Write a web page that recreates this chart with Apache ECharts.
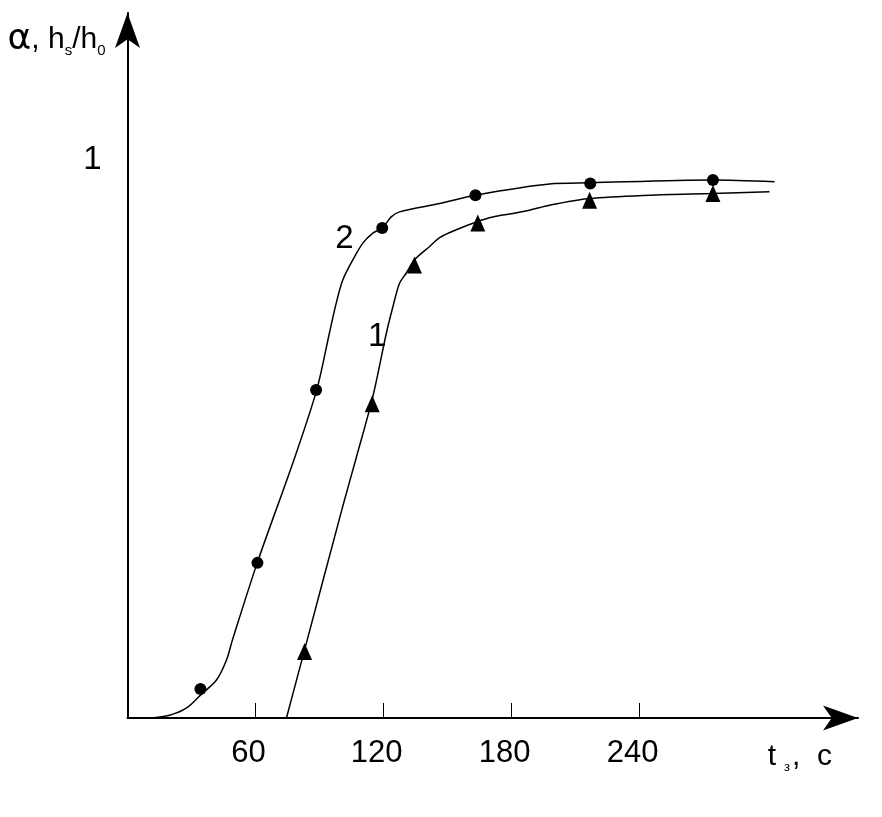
<!DOCTYPE html>
<html>
<head>
<meta charset="utf-8">
<script src="https://cdn.jsdelivr.net/npm/echarts@6/dist/echarts.min.js"></script>
<style>
html,body{margin:0;padding:0;background:#fff;}
#chart{width:882px;height:817px;}
</style>
</head>
<body>
<div id="chart"></div>
<script>
// Tick labels
const xTicks = [60, 120, 180, 240];
const yTicks = [1];

// Curve 2 (circles) – smooth line
const curve2 = [[10.3,0],[19.7,0.005],[27.7,0.018],[34.2,0.041],[41.7,0.068],[46.4,0.104],[49.2,0.140],
  [60.8,0.278],[77.95,0.462],[88.7,0.588],[94.6,0.689],[97.8,0.743],[100.9,0.785],[105.6,0.821],
  [110.3,0.851],[115.0,0.869],[119.4,0.878],[123.6,0.898],[127.5,0.907],[146.3,0.922],[163.1,0.937],
  [197.8,0.957],[216.6,0.959],[274.2,0.964],[303.3,0.961]];
// Curve 1 (triangles)
const curve1 = [[74.5,0],[83.0,0.122],[100.8,0.378],[106.9,0.462],[115.0,0.576],[121.3,0.689],
  [124.4,0.737],[127.5,0.779],[130.6,0.797],[134.5,0.821],[141.6,0.845],[146.3,0.861],[154.1,0.875],
  [163.5,0.889],[171.2,0.898],[180.6,0.904],[188.4,0.910],[197.8,0.919],[216.6,0.931],[244.7,0.937],
  [274.4,0.940],[300.9,0.943]];

// Measured points
const points2 = [[34.2,0.052],[60.9,0.278],[88.4,0.588],[119.4,0.878],[163.1,0.937],[216.9,0.958],[274.4,0.964]];
const points1 = [[83.0,0.119],[114.7,0.563],[134.5,0.812],[164.2,0.887],[216.6,0.928],[274.4,0.940]];

const chart = echarts.init(document.getElementById('chart'), null, {renderer: 'canvas'});
const FONT = 'Liberation Sans, Arial, sans-serif';

chart.setOption({
  animation: false,
  backgroundColor: '#fff',
  grid: {left: 127.5, top: 13, width: 730.5, height: 705},
  xAxis: {
    type: 'value', min: 0, max: 342.4,
    splitLine: {show: false},
    axisLine: {lineStyle: {color: '#000', width: 2}, symbol: ['none', 'arrow'], symbolSize: [18.75, 35]},
    axisTick: {show: true, inside: true, length: 15, customValues: xTicks, lineStyle: {color: '#000', width: 1}},
    axisLabel: {customValues: xTicks, margin: 20, color: '#000', fontSize: 31, fontFamily: FONT, padding: [0, 14, 0, 0]},
    name: '{m|t}{s|з}{m|,  c}',
    nameLocation: 'end',
    nameGap: -26,
    nameTextStyle: {
      align: 'right', verticalAlign: 'top', padding: [22, 0, 0, 0],
      rich: {
        m: {fontSize: 30, fontFamily: FONT, color: '#000', lineHeight: 34},
        s: {fontSize: 13, fontFamily: FONT, color: '#000', lineHeight: 20, verticalAlign: 'bottom', padding: [0, 2, 0, 8]}
      }
    }
  },
  yAxis: {
    type: 'value', min: 0, max: 1.2634,
    splitLine: {show: false},
    axisLine: {lineStyle: {color: '#000', width: 2}, symbol: ['none', 'arrow'], symbolSize: [18.75, 35]},
    axisTick: {show: false},
    axisLabel: {customValues: yTicks, margin: 26, color: '#000', fontSize: 33, fontFamily: FONT},
    name: '{a|α}{m|, h}{s|s}{m|/h}{s|0}',
    nameLocation: 'end',
    nameGap: -27,
    nameTextStyle: {
      align: 'right', verticalAlign: 'middle', padding: [0, 22, 0, 0],
      rich: {
        a: {fontSize: 36, fontFamily: 'DejaVu Sans, sans-serif', color: '#000', lineHeight: 36},
        m: {fontSize: 30, fontFamily: FONT, color: '#000', lineHeight: 36},
        s: {fontSize: 15, fontFamily: FONT, color: '#000', lineHeight: 22, verticalAlign: 'bottom'}
      }
    }
  },
  series: [
    {
      name: 'curve2', type: 'line', data: curve2, smooth: 0.3, showSymbol: false,
      lineStyle: {color: '#000', width: 1.5}, z: 2,
      markPoint: {
        symbol: 'circle', symbolSize: 0,
        label: {show: true, formatter: '2', color: '#000', fontSize: 33, fontFamily: FONT, position: 'inside'},
        data: [{coord: [101.7, 0.858]}]
      }
    },
    {
      name: 'curve1', type: 'line', data: curve1, smooth: 0.3, showSymbol: false,
      lineStyle: {color: '#000', width: 1.5}, z: 2,
      markPoint: {
        symbol: 'circle', symbolSize: 0,
        label: {show: true, formatter: '1', color: '#000', fontSize: 33, fontFamily: FONT, position: 'inside'},
        data: [{coord: [117.0, 0.683]}]
      }
    },
    {
      name: 'points2', type: 'scatter', data: points2, symbol: 'circle', symbolSize: 12,
      itemStyle: {color: '#000', opacity: 1}, z: 3
    },
    {
      name: 'points1', type: 'scatter', data: points1, symbol: 'triangle', symbolSize: [15, 17],
      itemStyle: {color: '#000', opacity: 1}, z: 3
    }
  ]
});
</script>
</body>
</html>
